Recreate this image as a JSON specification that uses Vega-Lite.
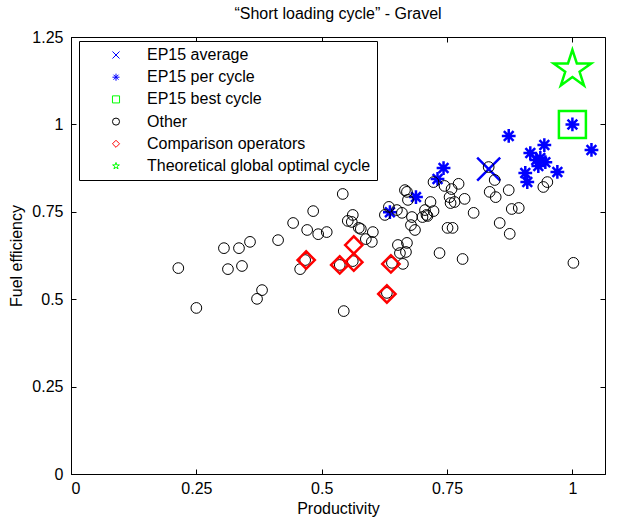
{
  "$schema": "https://vega.github.io/schema/vega-lite/v6.json",
  "width": 534,
  "height": 437,
  "autosize": {"type": "none"},
  "padding": {"left": 71, "top": 37, "right": 14, "bottom": 44},
  "background": "white",
  "title": {"text": "“Short loading cycle” - Gravel", "fontSize": 16, "fontWeight": "normal", "font": "Liberation Sans", "color": "black", "offset": 7},
  "config": {
    "view": {"stroke": "black", "strokeWidth": 1},
    "font": "Liberation Sans",
    "axis": {
      "domainColor": "black", "domainWidth": 1, "tickColor": "black", "labelColor": "black", "titleColor": "black",
      "labelFont": "Liberation Sans", "labelFontSize": 16, "titleFont": "Liberation Sans", "titleFontSize": 16,
      "titleFontWeight": "normal", "grid": false, "tickSize": -5, "labelPadding": 13
    },
    "legend": {"symbolSize": 50, "symbolStrokeWidth": 1}
  },
  "data": {"values": [
    {"x": 0.636, "y": 0.749, "group": "EP15 per cycle"},
    {"x": 0.688, "y": 0.792, "group": "EP15 per cycle"},
    {"x": 0.731, "y": 0.844, "group": "EP15 per cycle"},
    {"x": 0.743, "y": 0.875, "group": "EP15 per cycle"},
    {"x": 0.873, "y": 0.967, "group": "EP15 per cycle"},
    {"x": 0.906, "y": 0.861, "group": "EP15 per cycle"},
    {"x": 0.910, "y": 0.835, "group": "EP15 per cycle"},
    {"x": 0.916, "y": 0.918, "group": "EP15 per cycle"},
    {"x": 0.928, "y": 0.898, "group": "EP15 per cycle"},
    {"x": 0.936, "y": 0.904, "group": "EP15 per cycle"},
    {"x": 0.944, "y": 0.941, "group": "EP15 per cycle"},
    {"x": 0.932, "y": 0.881, "group": "EP15 per cycle"},
    {"x": 0.946, "y": 0.892, "group": "EP15 per cycle"},
    {"x": 0.970, "y": 0.864, "group": "EP15 per cycle"},
    {"x": 1.000, "y": 1.000, "group": "EP15 per cycle"},
    {"x": 1.038, "y": 0.927, "group": "EP15 per cycle"},
    {"x": 0.833, "y": 0.872, "group": "EP15 average"},
    {"x": 0.214, "y": 0.589, "group": "Other"},
    {"x": 0.250, "y": 0.475, "group": "Other"},
    {"x": 0.305, "y": 0.646, "group": "Other"},
    {"x": 0.335, "y": 0.646, "group": "Other"},
    {"x": 0.357, "y": 0.664, "group": "Other"},
    {"x": 0.313, "y": 0.586, "group": "Other"},
    {"x": 0.341, "y": 0.595, "group": "Other"},
    {"x": 0.381, "y": 0.526, "group": "Other"},
    {"x": 0.371, "y": 0.501, "group": "Other"},
    {"x": 0.413, "y": 0.669, "group": "Other"},
    {"x": 0.443, "y": 0.718, "group": "Other"},
    {"x": 0.471, "y": 0.698, "group": "Other"},
    {"x": 0.493, "y": 0.686, "group": "Other"},
    {"x": 0.510, "y": 0.692, "group": "Other"},
    {"x": 0.542, "y": 0.801, "group": "Other"},
    {"x": 0.483, "y": 0.752, "group": "Other"},
    {"x": 0.562, "y": 0.741, "group": "Other"},
    {"x": 0.552, "y": 0.724, "group": "Other"},
    {"x": 0.560, "y": 0.721, "group": "Other"},
    {"x": 0.574, "y": 0.704, "group": "Other"},
    {"x": 0.578, "y": 0.701, "group": "Other"},
    {"x": 0.602, "y": 0.692, "group": "Other"},
    {"x": 0.588, "y": 0.672, "group": "Other"},
    {"x": 0.600, "y": 0.664, "group": "Other"},
    {"x": 0.457, "y": 0.586, "group": "Other"},
    {"x": 0.467, "y": 0.612, "group": "Other"},
    {"x": 0.536, "y": 0.598, "group": "Other"},
    {"x": 0.562, "y": 0.609, "group": "Other"},
    {"x": 0.544, "y": 0.466, "group": "Other"},
    {"x": 0.640, "y": 0.604, "group": "Other"},
    {"x": 0.630, "y": 0.518, "group": "Other"},
    {"x": 0.656, "y": 0.632, "group": "Other"},
    {"x": 0.662, "y": 0.601, "group": "Other"},
    {"x": 0.668, "y": 0.635, "group": "Other"},
    {"x": 0.634, "y": 0.764, "group": "Other"},
    {"x": 0.626, "y": 0.741, "group": "Other"},
    {"x": 0.650, "y": 0.755, "group": "Other"},
    {"x": 0.660, "y": 0.747, "group": "Other"},
    {"x": 0.666, "y": 0.812, "group": "Other"},
    {"x": 0.672, "y": 0.784, "group": "Other"},
    {"x": 0.652, "y": 0.655, "group": "Other"},
    {"x": 0.723, "y": 0.835, "group": "Other"},
    {"x": 0.717, "y": 0.778, "group": "Other"},
    {"x": 0.723, "y": 0.752, "group": "Other"},
    {"x": 0.706, "y": 0.755, "group": "Other"},
    {"x": 0.709, "y": 0.741, "group": "Other"},
    {"x": 0.701, "y": 0.735, "group": "Other"},
    {"x": 0.711, "y": 0.738, "group": "Other"},
    {"x": 0.680, "y": 0.735, "group": "Other"},
    {"x": 0.670, "y": 0.807, "group": "Other"},
    {"x": 0.678, "y": 0.712, "group": "Other"},
    {"x": 0.686, "y": 0.698, "group": "Other"},
    {"x": 0.745, "y": 0.824, "group": "Other"},
    {"x": 0.755, "y": 0.792, "group": "Other"},
    {"x": 0.765, "y": 0.778, "group": "Other"},
    {"x": 0.757, "y": 0.775, "group": "Other"},
    {"x": 0.773, "y": 0.830, "group": "Other"},
    {"x": 0.759, "y": 0.815, "group": "Other"},
    {"x": 0.785, "y": 0.787, "group": "Other"},
    {"x": 0.803, "y": 0.747, "group": "Other"},
    {"x": 0.751, "y": 0.704, "group": "Other"},
    {"x": 0.761, "y": 0.704, "group": "Other"},
    {"x": 0.735, "y": 0.632, "group": "Other"},
    {"x": 0.781, "y": 0.615, "group": "Other"},
    {"x": 0.670, "y": 0.661, "group": "Other"},
    {"x": 0.833, "y": 0.878, "group": "Other"},
    {"x": 0.845, "y": 0.841, "group": "Other"},
    {"x": 0.835, "y": 0.807, "group": "Other"},
    {"x": 0.847, "y": 0.792, "group": "Other"},
    {"x": 0.873, "y": 0.812, "group": "Other"},
    {"x": 0.879, "y": 0.758, "group": "Other"},
    {"x": 0.893, "y": 0.761, "group": "Other"},
    {"x": 0.855, "y": 0.718, "group": "Other"},
    {"x": 0.875, "y": 0.687, "group": "Other"},
    {"x": 0.950, "y": 0.835, "group": "Other"},
    {"x": 0.942, "y": 0.821, "group": "Other"},
    {"x": 1.002, "y": 0.604, "group": "Other"},
    {"x": 1.000, "y": 1.000, "group": "EP15 best cycle"},
    {"x": 0.469, "y": 0.612, "group": "Comparison operators"},
    {"x": 0.536, "y": 0.598, "group": "Comparison operators"},
    {"x": 0.564, "y": 0.655, "group": "Comparison operators"},
    {"x": 0.564, "y": 0.606, "group": "Comparison operators"},
    {"x": 0.638, "y": 0.601, "group": "Comparison operators"},
    {"x": 0.630, "y": 0.515, "group": "Comparison operators"},
    {"x": 1.000, "y": 1.157, "group": "Theoretical global optimal cycle"}
  ]},
  "layer": [
    {
      "transform": [{"filter": "datum.group === 'EP15 per cycle'"}],
      "mark": {"type": "point", "filled": false, "opacity": 1, "size": 190, "strokeWidth": 2.5},
      "encoding": {
        "x": {"field": "x", "type": "quantitative", "scale": {"domain": [0, 1.065], "nice": false, "zero": false},
              "axis": {"values": [0, 0.25, 0.5, 0.75, 1], "labelExpr": "'' + datum.value", "title": "Productivity", "titlePadding": 4, "labelPadding": 11}},
        "y": {"field": "y", "type": "quantitative", "scale": {"domain": [0, 1.25], "nice": false, "zero": false},
              "axis": {"values": [0, 0.25, 0.5, 0.75, 1, 1.25], "labelExpr": "'' + datum.value", "title": "Fuel efficiency", "titlePadding": 7}},
        "color": {"field": "group", "type": "nominal",
          "scale": {"domain": ["EP15 average", "EP15 per cycle", "EP15 best cycle", "Other", "Comparison operators", "Theoretical global optimal cycle"],
                    "range": ["#0000ff", "#0000ff", "#00ff00", "#000000", "#ff0000", "#00ff00"]},
          "legend": {"title": null, "orient": "none", "legendX": 8, "legendY": 4, "strokeColor": "black", "fillColor": "white",
                     "padding": 6, "labelFont": "Liberation Sans", "labelFontSize": 16, "labelColor": "black", "labelLimit": 400,
                     "symbolSize": 50, "symbolStrokeWidth": 1, "symbolOffset": 23, "labelOffset": 23, "rowPadding": 6.2}},
        "shape": {"field": "group", "type": "nominal",
          "scale": {"domain": ["EP15 average", "EP15 per cycle", "EP15 best cycle", "Other", "Comparison operators", "Theoretical global optimal cycle"],
                    "range": ["M-1,-1L1,1M-1,1L1,-1", "M-1,0L1,0M0,-1L0,1M-0.707,-0.707L0.707,0.707M-0.707,0.707L0.707,-0.707", "square", "circle", "diamond",
                              "M0,-1L0.2245,-0.309L0.951,-0.309L0.3633,0.118L0.5878,0.809L0,0.382L-0.5878,0.809L-0.3633,0.118L-0.951,-0.309L-0.2245,-0.309Z"]},
          "legend": {"title": null, "orient": "none", "legendX": 8, "legendY": 4}}
      }
    },
    {
      "transform": [{"filter": "datum.group === 'EP15 average'"}],
      "mark": {"type": "point", "filled": false, "opacity": 1, "size": 529, "strokeWidth": 2.5},
      "encoding": {
        "x": {"field": "x", "type": "quantitative", "axis": null},
        "y": {"field": "y", "type": "quantitative", "axis": null},
        "color": {"field": "group", "type": "nominal"},
        "shape": {"field": "group", "type": "nominal"}
      }
    },
    {
      "transform": [{"filter": "datum.group === 'Other'"}],
      "mark": {"type": "point", "filled": false, "opacity": 1, "size": 115, "strokeWidth": 1},
      "encoding": {
        "x": {"field": "x", "type": "quantitative", "axis": null},
        "y": {"field": "y", "type": "quantitative", "axis": null},
        "color": {"field": "group", "type": "nominal"},
        "shape": {"field": "group", "type": "nominal"}
      }
    },
    {
      "transform": [{"filter": "datum.group === 'EP15 best cycle'"}],
      "mark": {"type": "point", "filled": false, "opacity": 1, "size": 729, "strokeWidth": 2.5},
      "encoding": {
        "x": {"field": "x", "type": "quantitative", "axis": null},
        "y": {"field": "y", "type": "quantitative", "axis": null},
        "color": {"field": "group", "type": "nominal"},
        "shape": {"field": "group", "type": "nominal"}
      }
    },
    {
      "transform": [{"filter": "datum.group === 'Comparison operators'"}],
      "mark": {"type": "point", "filled": false, "opacity": 1, "size": 300, "strokeWidth": 2.5},
      "encoding": {
        "x": {"field": "x", "type": "quantitative", "axis": null},
        "y": {"field": "y", "type": "quantitative", "axis": null},
        "color": {"field": "group", "type": "nominal"},
        "shape": {"field": "group", "type": "nominal"}
      }
    },
    {
      "transform": [{"filter": "datum.group === 'Theoretical global optimal cycle'"}],
      "mark": {"type": "point", "filled": false, "opacity": 1, "size": 1560, "strokeWidth": 2.5},
      "encoding": {
        "x": {"field": "x", "type": "quantitative", "axis": null},
        "y": {"field": "y", "type": "quantitative", "axis": null},
        "color": {"field": "group", "type": "nominal"},
        "shape": {"field": "group", "type": "nominal"}
      }
    },
    {
      "mark": {"type": "point", "opacity": 0},
      "encoding": {
        "x": {"field": "x", "type": "quantitative",
              "axis": {"orient": "top", "values": [0, 0.25, 0.5, 0.75, 1], "labels": false, "title": null, "domain": false}},
        "y": {"field": "y", "type": "quantitative",
              "axis": {"orient": "right", "values": [0, 0.25, 0.5, 0.75, 1, 1.25], "labels": false, "title": null, "domain": false}}
      }
    }
  ],
  "resolve": {"axis": {"x": "independent", "y": "independent"}}
}
